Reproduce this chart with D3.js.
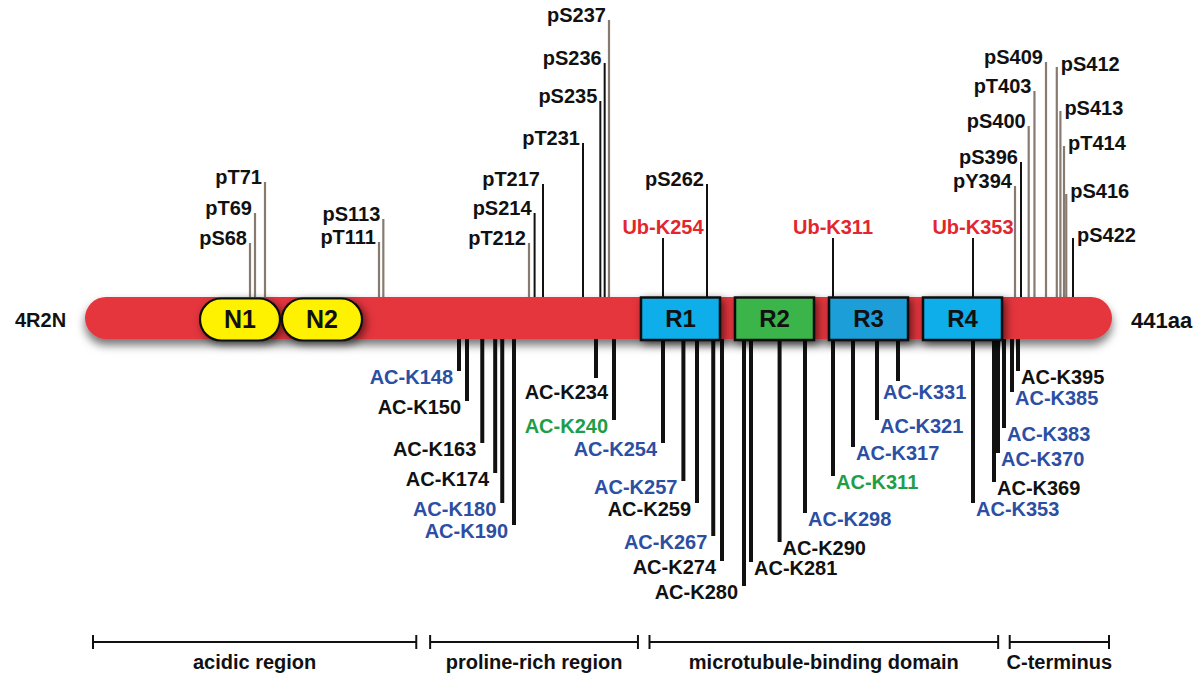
<!DOCTYPE html>
<html><head><meta charset="utf-8">
<script src="https://cdn.jsdelivr.net/npm/d3@7"></script>
<style>
body{margin:0;background:#fff}
svg{display:block}
text{font-family:"Liberation Sans",Arial,Helvetica,sans-serif;font-weight:bold}
</style>
</head><body>
<svg id="chart" width="1200" height="675"></svg>
<script>
// ---------------- data ----------------
const proteinName = "4R2N";
const proteinLength = 441;
const lengthLabel = "441aa";

// N-terminal inserts and repeat domains
const insertNames = ["N1", "N2"];
const repeatNames = ["R1", "R2", "R3", "R4"];
const repeatColors = ["blue", "green", "blue2", "blue"];

// modification sites above the bar (phosphorylation / ubiquitination)
const topLabels = ["pS68","pT69","pT71","pT111","pS113","pT212","pS214","pT217","pT231","pS235","pS236","pS237",
  "Ub-K254","pS262","Ub-K311","Ub-K353","pY394","pS396","pS400","pT403","pS409","pS412","pS413","pT414","pS416","pS422"];
const topResidues = [68,69,71,111,113,212,214,217,231,235,236,237,254,262,311,353,394,396,400,403,409,412,413,414,416,422];
const topStem = [54,84,115,55,78,54,84,113,154,196,234,277,59,113,59,59,111,135,171,206,235,230,186,151,103,59];
const topKind = ["grey","grey","grey","grey","grey","grey","black","black","black","black","black","grey",
  "ub","black","ub","ub","grey","black","grey","grey","grey","grey","grey","grey","grey","black"];
const topSide = ["L","L","L","L","L","L","L","L","L","L","L","L","C","L","C","C","L","L","L","L","L","R","R","R","R","R"];

// acetylation sites below the bar
const acLabels = ["AC-K148","AC-K150","AC-K163","AC-K174","AC-K180","AC-K190","AC-K234","AC-K240","AC-K254","AC-K257",
  "AC-K259","AC-K267","AC-K274","AC-K280","AC-K281","AC-K290","AC-K298","AC-K311","AC-K317","AC-K321","AC-K331",
  "AC-K353","AC-K369","AC-K370","AC-K383","AC-K385","AC-K395"];
const acResidues = [148,150,163,174,180,190,234,240,254,257,259,267,274,280,281,290,298,311,317,321,331,353,369,370,383,385,395];
const acStem = [32,62,104,134,164,186,39,81,104,142,164,197,222,247,223,203,174,137,108,81,42,164,143,114,89,53,32];
const acColor = ["blue","black","black","black","blue","blue","black","green","blue","blue","black","blue","black","black",
  "black","black","blue","green","blue","blue","blue","blue","black","blue","blue","blue","black"];
const acSide = ["L","L","L","L","L","L","LB","L","L","L","L","L","L","L","R","R","R","R","R","R","RB","R","R","R","R","R","R"];

// regions below
const regionNames = ["acidic region","proline-rich region","microtubule-binding domain","C-terminus"];
const regionStart = [1, 147, 242, 398];
const regionEnd = [141, 237, 393, 441];

// ---------------- layout / styles ----------------
const palette = {
  bar: "#e5353e", blue: "#0aaeea", blue2: "#1c9fd8", green: "#3ab54a", yellow: "#fff200",
  grey: "#877b71", black: "#111111", ub: "#e3262d", acBlue: "#2c4ea3", acGreen: "#1f9e48"
};
const barTop = 297, barH = 42, barBot = barTop + barH;

// schematic (non-proportional) residue -> x mapping of the drawing
const x = d3.scaleLinear()
  .domain([1, 68, 71, 111, 148, 150, 190, 212, 217, 231, 237, 240, 254, 259, 262, 274, 280, 281, 298, 311, 317, 321, 331, 353, 369, 370, 383, 385, 394, 396, 409, 414, 422, 441])
  .range([85, 250, 265, 379, 459, 467, 514, 529, 543, 583, 609, 614, 663, 697, 707, 722, 744, 751, 805, 833, 853, 877, 898, 973, 994, 998, 1004, 1012, 1015, 1021, 1046, 1064, 1073, 1112]);
const stemUp = d3.scaleLinear().domain([0, 300]).range([barTop, barTop - 300]);
const stemDown = d3.scaleLinear().domain([0, 300]).range([barBot, barBot + 300]);
const insertBand = d3.scaleBand().domain(insertNames).range([199, 363]).paddingInner(0);
const repeatBand = d3.scaleBand().domain(repeatNames).range([641, 1002]).paddingInner(0.16);
const regionX = d3.scaleLinear().domain([1, proteinLength]).range([93, 1109]);

const svg = d3.select("#chart");
const defs = svg.append("defs");
const f = defs.append("filter").attr("id", "shadow").attr("x", "-10%").attr("y", "-60%").attr("width", "120%").attr("height", "240%");
f.append("feDropShadow").attr("dx", 0).attr("dy", 6).attr("stdDeviation", 5).attr("flood-color", "#000").attr("flood-opacity", 0.55);
const f2 = defs.append("filter").attr("id", "shadow2").attr("x", "-30%").attr("y", "-40%").attr("width", "160%").attr("height", "200%");
f2.append("feDropShadow").attr("dx", 3).attr("dy", 3).attr("stdDeviation", 4).attr("flood-color", "#000").attr("flood-opacity", 0.55);

// ---- top stems ----
const topData = topLabels.map((l, i) => ({label: l, res: topResidues[i], stem: topStem[i], kind: topKind[i], side: topSide[i]}));
const gTop = svg.append("g");
gTop.selectAll("line").data(topData).join("line")
  .attr("x1", d => x(d.res)).attr("x2", d => x(d.res))
  .attr("y1", d => stemUp(d.stem)).attr("y2", barTop + 4)
  .attr("stroke", d => d.kind === "grey" ? palette.grey : palette.black)
  .attr("stroke-width", d => d.kind === "grey" ? 2.2 : 2);
gTop.selectAll("text").data(topData).join("text")
  .attr("x", d => d.side === "L" ? x(d.res) - 3 : d.side === "R" ? x(d.res) + 4 : x(d.res))
  .attr("y", d => d.side === "C" ? stemUp(d.stem) - 4 : d.side === "R" ? stemUp(d.stem) + 4 : stemUp(d.stem) + 2)
  .attr("text-anchor", d => d.side === "L" ? "end" : d.side === "R" ? "start" : "middle")
  .attr("font-size", 20)
  .attr("fill", d => d.kind === "ub" ? palette.ub : palette.black)
  .text(d => d.label);

// ---- bottom stems ----
const acData = acLabels.map((l, i) => ({label: l, res: acResidues[i], stem: acStem[i], color: acColor[i], side: acSide[i]}));
const gBot = svg.append("g");
gBot.selectAll("line").data(acData).join("line")
  .attr("x1", d => x(d.res)).attr("x2", d => x(d.res))
  .attr("y1", barBot - 4).attr("y2", d => stemDown(d.stem))
  .attr("stroke", palette.black).attr("stroke-width", 4);
gBot.selectAll("text").data(acData).join("text")
  .attr("x", d => ({L: x(d.res) - 6, R: x(d.res) + 3, LB: x(d.res) + 12, RB: x(d.res) - 15})[d.side])
  .attr("y", d => stemDown(d.stem) + (d.side === "LB" ? 21 : d.side === "RB" ? 18 : 13))
  .attr("text-anchor", d => (d.side === "L" || d.side === "LB") ? "end" : "start")
  .attr("font-size", 20)
  .attr("fill", d => d.color === "blue" ? palette.acBlue : d.color === "green" ? palette.acGreen : palette.black)
  .text(d => d.label);

// ---- bar ----
svg.append("rect")
  .attr("x", x(1)).attr("y", barTop).attr("width", x(proteinLength) - x(1)).attr("height", barH)
  .attr("rx", barH / 2).attr("fill", palette.bar).attr("filter", "url(#shadow)");

// inserts
const gIns = svg.append("g");
gIns.selectAll("rect").data(insertNames).join("rect")
  .attr("x", d => insertBand(d) + 1).attr("y", barTop + 1.5)
  .attr("width", insertBand.bandwidth() - 2).attr("height", 42)
  .attr("rx", 21).attr("fill", palette.yellow).attr("stroke", "#111").attr("stroke-width", 2.2)
  .attr("filter", "url(#shadow2)");
gIns.selectAll("text").data(insertNames).join("text")
  .attr("x", d => insertBand(d) + insertBand.bandwidth() / 2).attr("y", barTop + 31)
  .attr("text-anchor", "middle").attr("font-size", 25).attr("fill", "#111").text(d => d);

// repeats
const gRep = svg.append("g");
gRep.selectAll("rect").data(repeatNames).join("rect")
  .attr("x", d => repeatBand(d)).attr("y", barTop + 0.5)
  .attr("width", repeatBand.bandwidth()).attr("height", 42.5)
  .attr("fill", (d, i) => palette[repeatColors[i]]).attr("stroke", "#111").attr("stroke-width", 2.5)
  .attr("filter", "url(#shadow2)");
gRep.selectAll("text").data(repeatNames).join("text")
  .attr("x", d => repeatBand(d) + repeatBand.bandwidth() / 2).attr("y", barTop + 30)
  .attr("text-anchor", "middle").attr("font-size", 24).attr("fill", "#111").text(d => d);

// end labels
svg.append("text").attr("x", 15).attr("y", 327).attr("font-size", 20).attr("fill", "#111").text(proteinName);
svg.append("text").attr("x", 1131).attr("y", 328).attr("font-size", 22).attr("fill", "#111").text(lengthLabel);

// ---- regions ----
const regData = regionNames.map((n, i) => ({name: n, s: regionStart[i], e: regionEnd[i]}));
const gReg = svg.append("g").attr("stroke", "#111").attr("stroke-width", 2);
regData.forEach(d => {
  const x0 = regionX(d.s), x1 = regionX(d.e);
  gReg.append("line").attr("x1", x0).attr("x2", x1).attr("y1", 642).attr("y2", 642);
  gReg.append("line").attr("x1", x0).attr("x2", x0).attr("y1", 635).attr("y2", 649);
  gReg.append("line").attr("x1", x1).attr("x2", x1).attr("y1", 635).attr("y2", 649);
});
svg.append("g").selectAll("text").data(regData).join("text")
  .attr("x", d => (regionX(d.s) + regionX(d.e)) / 2).attr("y", 669)
  .attr("text-anchor", "middle").attr("font-size", 20).attr("fill", "#111").text(d => d.name);
</script>
</body></html>
